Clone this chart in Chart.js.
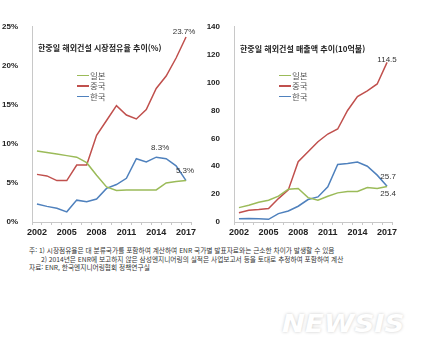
<!DOCTYPE html>
<html lang="ko">
<head>
<meta charset="utf-8">
<script src="https://cdn.jsdelivr.net/npm/chart.js@4.4.1/dist/chart.umd.min.js"></script>
<style>
  body { margin: 0; background: #fff; width: 428px; height: 357px; overflow: hidden; position: relative; font-family: "Noto Sans CJK KR", "Noto Sans", sans-serif; }
  canvas { position: absolute; }
  .title { position: absolute; font-size: 8px; font-weight: bold; color: #222; white-space: nowrap; }
  .legend { position: absolute; font-size: 8.5px; color: #555; line-height: 10.3px; white-space: nowrap; }
  .legend span { display: inline-block; width: 12px; height: 1.5px; margin-right: 1px; vertical-align: middle; position: relative; top: -1px; }
  .note { position: absolute; left: 29px; font-size: 6.7px; color: #333; white-space: nowrap; }
  .mark { position: absolute; left: 282px; top: 310px; font: italic 900 24px "DejaVu Sans", sans-serif; color: #fff; text-shadow: 0 0 3px rgba(0,0,0,0.22); transform: scaleX(1.15); transform-origin: left; }
</style>
</head>
<body>
<canvas id="share" width="200" height="229" style="left:0;top:16px"></canvas>
<canvas id="sales" width="200" height="229" style="left:200px;top:16px"></canvas>

<div class="title" style="left:38px;top:42px">한중일 해외건설 시장점유율 추이(%)</div>
<div class="title" style="left:240px;top:43px">한중일 해외건설 매출액 추이(10억불)</div>

<div class="legend" style="left:77px;top:70px"><span style="background:#9BBB59"></span>일본<br><span style="background:#C0504D"></span>중국<br><span style="background:#4F81BD"></span>한국</div>
<div class="legend" style="left:279px;top:70px"><span style="background:#9BBB59"></span>일본<br><span style="background:#C0504D"></span>중국<br><span style="background:#4F81BD"></span>한국</div>

<div class="note" style="top:245px">주: 1) 시장점유율은 대 분류국가를 포함하여 계산하여 ENR 국가별 발표자료와는 근소한 차이가 발생할 수 있음</div>
<div class="note" style="top:253.5px;left:41px">2) 2014년은 ENR에 보고하지 않은 삼성엔지니어링의 실적은 사업보고서 등을 토대로 추정하여 포함하여 계산</div>
<div class="note" style="top:262px">자료: ENR, 한국엔지니어링협회 정책연구실</div>

<div class="mark">NEWSIS</div>

<script>
// 연도 (x축)
const years = ['2002','2003','2004','2005','2006','2007','2008','2009','2010','2011','2012','2013','2014','2015','2016','2017'];

// 시장점유율 (%)
const shareJapan = [9.1, 8.9, 8.7, 8.5, 8.3, 7.6, 6.0, 4.5, 4.05, 4.1, 4.1, 4.1, 4.1, 5.0, 5.2, 5.3];
const shareChina = [6.1, 5.9, 5.3, 5.3, 7.3, 7.3, 11.1, 13.0, 14.9, 13.7, 13.2, 14.4, 17.1, 18.7, 21.0, 23.7];
const shareKorea = [2.3, 2.0, 1.75, 1.3, 2.8, 2.6, 2.95, 4.3, 4.8, 5.6, 8.1, 7.7, 8.3, 8.1, 7.2, 5.3];

// 매출액 (10억불)
const salesJapan = [10.3, 12, 14.2, 15.6, 18.5, 23.5, 24, 17.5, 15.6, 18.5, 20.9, 21.9, 21.9, 24.7, 24, 25.4];
const salesChina = [6.7, 8.4, 8.9, 9.6, 16.8, 23, 43.2, 50.4, 57.6, 63.1, 66.7, 80, 90, 94, 99, 114.5];
const salesKorea = [2.4, 2.5, 2.4, 1.9, 6.0, 7.9, 11.3, 16.1, 18, 25.2, 41.3, 42, 43, 40, 33.6, 25.7];

// 축 눈금
const shareTicks = [0, 5, 10, 15, 20, 25];
const salesTicks = [0, 20, 40, 60, 80, 100, 120, 140];

const colJapan = '#9BBB59', colChina = '#C0504D', colKorea = '#4F81BD';

// 값 라벨: [데이터셋 번호, 인덱스, 텍스트, dx, dy]
const shareLabels = [[1, 15, '23.7%', -2, -5], [2, 12, '8.3%', 4, -9], [2, 15, '5.3%', -1, -10]];
const salesLabels = [[1, 15, '114.5', 0, -3], [2, 15, '25.7', 1, -9], [0, 15, '25.4', 1, 7]];

const valueLabels = {
  id: 'valueLabels',
  afterDatasetsDraw(chart, args, opts) {
    const ctx = chart.ctx;
    ctx.save();
    ctx.font = '8px "Liberation Sans", Arial, sans-serif';
    ctx.fillStyle = '#333';
    ctx.textAlign = 'center';
    ctx.textBaseline = 'middle';
    opts.items.forEach(([ds, i, text, dx, dy]) => {
      const p = chart.getDatasetMeta(ds).data[i];
      ctx.fillText(text, p.x + dx, p.y + dy);
    });
    ctx.restore();
  }
};

function makeChart(id, japan, china, korea, ticks, fmt, yWidth, labels, padRight) {
  return new Chart(document.getElementById(id), {
    type: 'line',
    data: {
      labels: years,
      datasets: [
        { label: '일본', data: japan, borderColor: colJapan },
        { label: '중국', data: china, borderColor: colChina },
        { label: '한국', data: korea, borderColor: colKorea }
      ]
    },
    options: {
      responsive: false,
      animation: false,
      layout: { padding: { top: 3, right: padRight, left: 0, bottom: 0 } },
      elements: { line: { borderWidth: 1.5, tension: 0 }, point: { radius: 0 } },
      plugins: { legend: { display: false }, tooltip: { enabled: false }, valueLabels: { items: labels } },
      scales: {
        x: {
          offset: true,
          grid: { display: true, drawOnChartArea: false, offset: true, tickLength: 3, color: '#c8c8c8' },
          border: { color: '#c8c8c8' },
          ticks: {
            autoSkip: false, maxRotation: 0, padding: 2, color: '#222',
            font: { size: 9, weight: 'bold', family: '"Liberation Sans", Arial, sans-serif' },
            callback: (v, i) => (i % 3 === 0 ? years[i] : '')
          },
          afterFit: s => { s.height = 23; }
        },
        y: {
          min: ticks[0], max: ticks[ticks.length - 1],
          afterBuildTicks: s => { s.ticks = ticks.map(v => ({ value: v })); },
          grid: { display: false },
          border: { color: '#c8c8c8' },
          ticks: {
            padding: 6, color: '#222',
            font: { size: 8, weight: 'bold', family: '"Liberation Sans", Arial, sans-serif' },
            callback: fmt
          },
          afterFit: s => { s.width = yWidth; }
        }
      }
    },
    plugins: [valueLabels]
  });
}

makeChart('share', shareJapan, shareChina, shareKorea, shareTicks, v => v + '%', 32, shareLabels, 9);
makeChart('sales', salesJapan, salesChina, salesKorea, salesTicks, v => v, 34, salesLabels, 8);
</script>
</body>
</html>
